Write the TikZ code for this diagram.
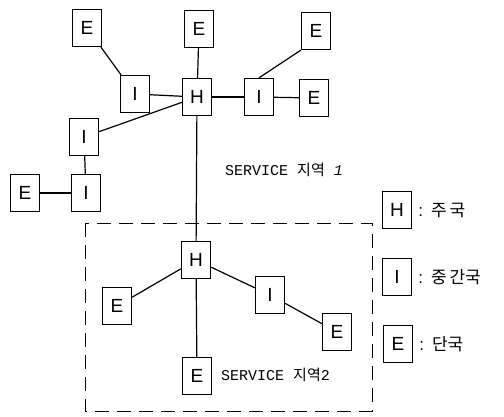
\documentclass[tikz,border=0pt]{standalone}
\usepackage{fontspec}
\setmainfont{Liberation Sans}
\setmonofont{Liberation Mono}
\newfontfamily\kr{Noto Sans CJK KR}
\usetikzlibrary{positioning}
\tikzset{
  stn/.style={draw,line width=1.3pt,minimum width=29pt,minimum height=37pt,
              inner sep=0pt,font=\fontsize{19}{19}\selectfont},
  ln/.style={line width=1.2pt},
  zone/.style={line width=0.9pt,dash pattern=on 14pt off 8pt},
  lab/.style={font=\fontsize{15}{18}\selectfont,inner sep=0pt},
  key/.style={font=\fontsize{17}{17}\selectfont,anchor=west,inner sep=0pt},
}
\begin{document}
\begin{tikzpicture}[x=1pt,y=-1pt]
  \useasboundingbox (0,0) rectangle (504,416);
  % service area 2
  \draw[zone] (85,223) rectangle (372,411);
  % stations
  \foreach \n/\t/\x/\y in {e1/E/87/28,e2/E/199/29,e3/E/316/31,i1/I/135/94,
      h1/H/197/97,i2/I/259/97,e4/E/314/98,i3/I/84/137,i4/I/86/193,e5/E/25/193,
      h2/H/196/260,e6/E/117/306,i5/I/270/295,e7/E/337/332,e8/E/197/376}
    {\node[stn] (\n) at (\x,\y) {\t};}
  % links
  \draw[ln] (e1) -- (i1);
  \draw[ln] (i1) -- (h1);
  \draw[ln] (e2) -- (h1);
  \draw[ln] (h1) -- (i2);
  \draw[ln] (i2) -- (e4);
  \draw[ln] (i2.north) -- (e3.south west);
  \draw[ln] (h1) -- (i3);
  \draw[ln] (i3) -- (i4);
  \draw[ln] (e5) -- (i4);
  \draw[ln] (h1) -- (h2);
  \draw[ln] (h2) -- (e6);
  \draw[ln] (h2) -- (i5);
  \draw[ln] (i5) -- (e7);
  \draw[ln] (h2) -- (e8);
  % area labels
  \node[lab,anchor=west] (sa1) at (225,170) {\ttfamily SERVICE {\kr 지역} \textit{1}};
  \node[lab,anchor=west] (sa2) at (221,375) {\ttfamily SERVICE {\kr 지역}2};
  % legend
  \node[stn] (kh) at (397,210) {H};
  \node[stn] (ki) at (397,277) {I};
  \node[stn] (ke) at (398,344) {E};
  \node[key] (th) at ([xshift=6pt]kh.east) {:\hspace{8pt}{\kr 주\,국}};
  \node[key] (ti) at ([xshift=6pt]ki.east) {:\hspace{8pt}{\kr 중\,간국}};
  \node[key] (te) at ([xshift=6pt]ke.east) {:\hspace{8pt}{\kr 단국}};
\end{tikzpicture}
\end{document}
